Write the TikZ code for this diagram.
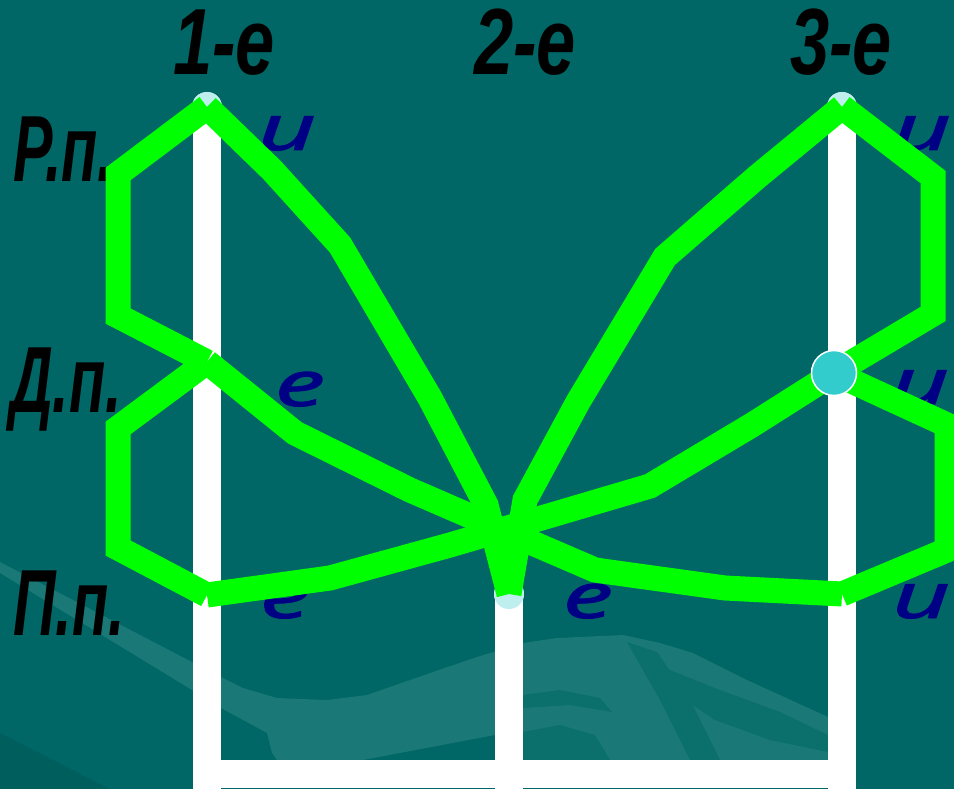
\documentclass[tikz,border=0pt]{standalone}
\usepackage{fontspec}
\setmainfont{Liberation Sans}
\newfontfamily\endingfont{Noto Sans}[FakeBold=1.2]
\usetikzlibrary{positioning}

\definecolor{bgteal}{HTML}{006666}
\definecolor{wavelight}{HTML}{1A7976}
\definecolor{wavemid}{HTML}{0B6F6C}
\definecolor{wavedark}{HTML}{005F5D}
\definecolor{wingreen}{HTML}{00FF00}
\definecolor{spotcyan}{HTML}{BEEEEE}
\definecolor{markcyan}{HTML}{33CCCC}
\definecolor{endnavy}{HTML}{000085}

\newcommand{\narrowtext}[2]{\scalebox{#1}[1]{#2}}

\begin{document}
\begin{tikzpicture}[
    x=1pt, y=-1pt,
    bar/.style={draw=white, line width=28pt},
    wing/.style={draw=wingreen, line width=25pt},
    spot/.style={circle, fill=spotcyan, minimum size=30pt, inner sep=0pt},
    bigspot/.style={circle, fill=markcyan, draw=white, line width=1.5pt, minimum size=45pt, inner sep=0pt},
    caselab/.style={font=\fontsize{94}{94}\selectfont\bfseries\itshape, anchor=base west, inner sep=0pt},
    decllab/.style={font=\fontsize{94}{94}\selectfont\bfseries\itshape, anchor=base, inner sep=0pt},
    ending/.style={font=\endingfont\fontsize{63}{63}\selectfont\itshape, text=endnavy, anchor=base, inner sep=0pt}
]

    % Background
    \useasboundingbox (0,0) rectangle (954,789);
    \fill[bgteal] (0,0) rectangle (954,789);

    % Waves at the bottom
    \fill[wavedark] (0,733) -- (110,789) -- (0,789) -- cycle;
    \fill[wavelight] (0,562) -- (192,662) -- (221,677) -- (243,688) -- (277,698) -- (327,700)
        -- (367,695) -- (433,672) -- (477,657) -- (523,643) -- (557,638) -- (623,635)
        -- (660,643) -- (693,653) -- (747,680) -- (828,717) -- (828,760) -- (495,760)
        -- (495,735) -- (363,760) -- (277,760) -- (272,753) -- (267,733) -- (221,708)
        -- (192,690) -- (0,573) -- cycle;
    \fill[wavemid] (627,642) -- (657,652) -- (690,700) -- (720,760) -- (690,760) -- (660,700) -- cycle;
    \fill[wavemid] (665,668) -- (720,690) -- (780,712) -- (828,735) -- (828,752) -- (770,740)
        -- (715,720) -- (685,700) -- cycle;
    \fill[wavemid] (523,732) -- (560,725) -- (595,735) -- (610,760) -- (523,760) -- cycle;
    \fill[wavemid] (523,695) -- (560,690) -- (600,698) -- (612,712) -- (570,705) -- (523,708) -- cycle;

    % Declension nodes
    \node[spot] (r1) at (207,107) {};
    \node[spot] (d1) at (207,362) {};
    \node[spot] (p1) at (207,595) {};
    \node[spot] (p2) at (509,594) {};
    \node[spot] (r3) at (842,107) {};
    \node[spot] (p3) at (842,594) {};
    \coordinate (d3) at (834,373);

    % Bars
    \coordinate (f1) at (207,789);
    \coordinate (f2) at (509,789);
    \coordinate (f3) at (842,789);
    \coordinate (h1) at (207,774);
    \coordinate (h3) at (842,774);
    \draw[bar] (r1.center) -- (f1);
    \draw[bar] (p2.center) -- (f2);
    \draw[bar] (r3.center) -- (f3);
    \draw[bar] (h1) -- (h3);
    \node[spot] (r1top) at (r1) {};
    \node[spot] (r3top) at (r3) {};
    \node[spot] (p2top) at (p2) {};

    % Endings
    \node[ending] (endr1) at (287,150) {\narrowtext{1.6}{и}};
    \node[ending] (endd1) at (300,406) {\narrowtext{1.6}{е}};
    \node[ending] (endp1) at (285,618) {\narrowtext{1.6}{е}};
    \node[ending] (endp2) at (588,618) {\narrowtext{1.6}{е}};
    \node[ending] (endr3) at (922,150) {\narrowtext{1.6}{и}};
    \node[ending] (endd3) at (920,404) {\narrowtext{1.6}{и}};
    \node[ending] (endp3) at (921,618) {\narrowtext{1.6}{и}};

    % Labels
    \node[decllab] (decl1) at (224,75) {\narrowtext{0.75}{1-е}};
    \node[decllab] (decl2) at (525,75) {\narrowtext{0.75}{2-е}};
    \node[decllab] (decl3) at (841,75) {\narrowtext{0.75}{3-е}};
    \node[caselab] (caser) at (13,182) {\narrowtext{0.63}{Р.п.}};
    \node[caselab] (cased) at (10,412) {\narrowtext{0.63}{Д.п.}};
    \node[caselab] (casep) at (13,635) {\narrowtext{0.63}{П.п.}};

    % Bends of the green lines
    \coordinate (la1) at (118,174);
    \coordinate (la2) at (118,316);
    \coordinate (lb1) at (118,548);
    \coordinate (lb2) at (118,428);
    \coordinate (ra1) at (933,177);
    \coordinate (ra2) at (933,314);
    \coordinate (rb1) at (947,425);
    \coordinate (rb2) at (947,550);
    \coordinate (c1) at (272,170);
    \coordinate (c2) at (340,245);
    \coordinate (c3) at (430,398);
    \coordinate (c4) at (486,505);
    \coordinate (k1) at (757,177);
    \coordinate (k2) at (665,257);
    \coordinate (k3) at (578,402);
    \coordinate (k4) at (525,500);
    \coordinate (x1) at (295,433);
    \coordinate (x2) at (410,490);
    \coordinate (x3) at (530,542);
    \coordinate (x4) at (595,570);
    \coordinate (x5) at (725,588);
    \coordinate (y1) at (330,578);
    \coordinate (y2) at (450,545);
    \coordinate (y3) at (650,486);
    \coordinate (y4) at (752,425);

    % Green lines
    \draw[wing] (r1.center) -- (la1) -- (la2) -- (d1.center);
    \draw[wing] (p1.center) -- (lb1) -- (lb2) -- (d1.center);
    \draw[wing] (r3.center) -- (ra1) -- (ra2) -- (d3);
    \draw[wing] (d3) -- (rb1) -- (rb2) -- (p3.center);
    \draw[wing] (r1.center) -- (c1) -- (c2) -- (c3) -- (c4) -- (p2.center);
    \draw[wing] (r3.center) -- (k1) -- (k2) -- (k3) -- (k4) -- (p2.center);
    \draw[wing] (d1.center) -- (x1) -- (x2) -- (x3) -- (x4) -- (x5) -- (p3.center);
    \draw[wing] (p1.center) -- (y1) -- (y2) -- (y3) -- (y4) -- (d3);

    \node[bigspot] (d3mark) at (d3) {};

\end{tikzpicture}
\end{document}
